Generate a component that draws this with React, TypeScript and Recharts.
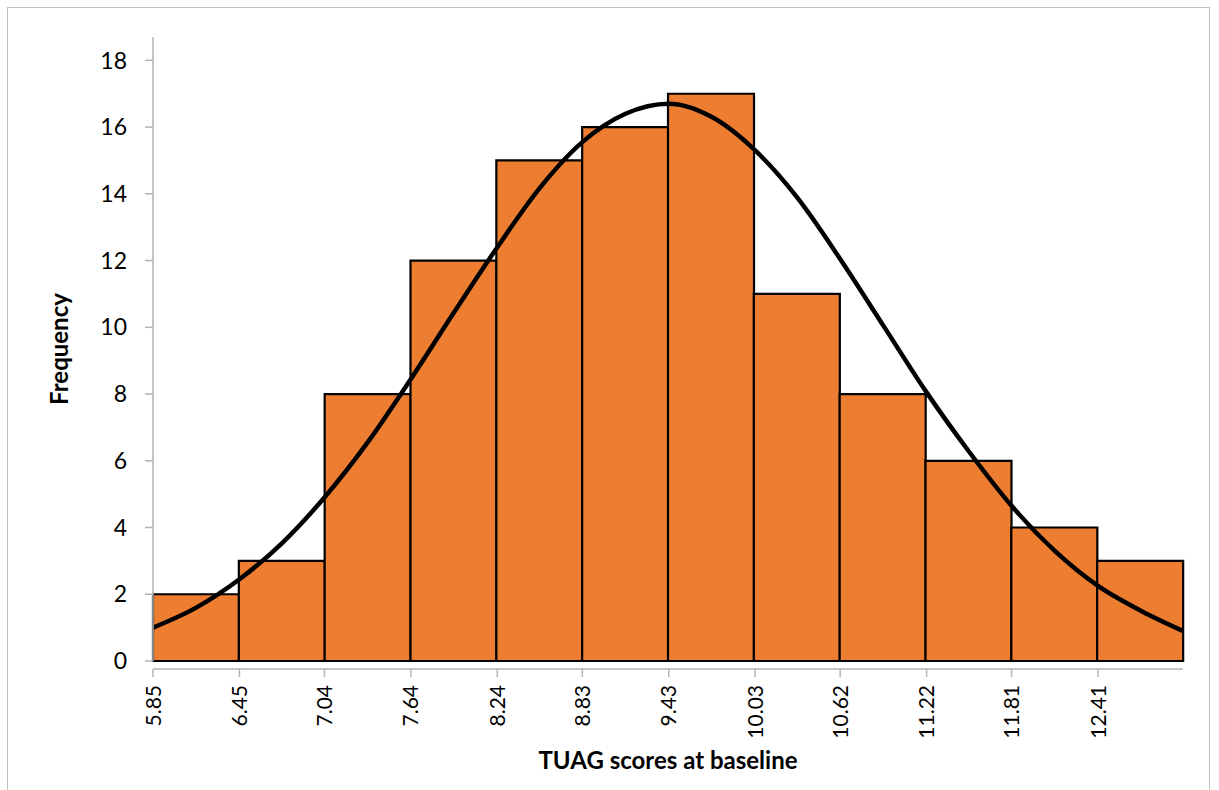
import React from 'react';
import { ComposedChart, Bar, Line, XAxis, YAxis } from 'recharts';

const binStarts = [5.85, 6.45, 7.04, 7.64, 8.24, 8.83, 9.43, 10.03, 10.62, 11.22, 11.81, 12.41];
const tickLabels = ['5.85', '6.45', '7.04', '7.64', '8.24', '8.83', '9.43', '10.03', '10.62', '11.22', '11.81', '12.41'];
const frequencies = [2, 3, 8, 12, 15, 16, 17, 11, 8, 6, 4, 3];
const yTicks = [0, 2, 4, 6, 8, 10, 12, 14, 16, 18];

// Normal curve at bin edges and bin centres
const curveX = [5.85, 6.15, 6.45, 6.75, 7.04, 7.34, 7.64, 7.94, 8.24, 8.53, 8.83, 9.13, 9.43, 9.73, 10.03, 10.32, 10.62, 10.92, 11.22, 11.51, 11.81, 12.11, 12.41, 12.71, 13.0];
const curveY = [1.0, 1.6, 2.45, 3.55, 4.9, 6.55, 8.45, 10.45, 12.4, 14.15, 15.55, 16.4, 16.7, 16.3, 15.3, 13.9, 12.05, 10.05, 8.05, 6.3, 4.65, 3.3, 2.25, 1.5, 0.9];

const barData = tickLabels.map((label, i) => ({ bin: label, freq: frequencies[i] }));
const curveData = curveX.map((x, i) => ({ x, y: curveY[i] }));

const FONT = 'Lato, "Liberation Sans", sans-serif';

const XTick = (props: any) => {
  const { x, y, payload } = props;
  const idx = binStarts.indexOf(payload.value);
  const label = idx >= 0 ? tickLabels[idx] : String(payload.value);
  return (
    <text
      x={0}
      y={0}
      dy="0.36em"
      textAnchor="end"
      fontSize={21}
      fontFamily={FONT}
      fill="#000"
      transform={`translate(${x},${y + 6}) rotate(-90)`}
    >
      {label}
    </text>
  );
};

export default function App() {
  return (
    <div style={{ position: 'absolute', left: 0, top: 0, width: 1219, height: 790, background: '#fff', fontFamily: FONT }}>
      <div style={{ position: 'absolute', left: 7, top: 7, width: 1203, height: 800, border: '1px solid #bfbfbf', boxSizing: 'border-box' }} />
      <div style={{ position: 'absolute', left: 0, top: 0 }}>
        <ComposedChart
          width={1219}
          height={790}
          data={barData}
          margin={{ top: 37, right: 36, left: 0, bottom: 0 }}
          barCategoryGap={0}
          barGap={0}
        >
          <XAxis
            xAxisId="cat"
            dataKey="bin"
            type="category"
            height={8}
            tick={false}
            axisLine={false}
            tickLine={false}
          />
          <XAxis
            xAxisId="num"
            dataKey="x"
            type="number"
            domain={[5.85, 13.0]}
            allowDataOverflow
            ticks={binStarts}
            interval={0}
            height={121}
            axisLine={{ stroke: '#b3b3b3', strokeWidth: 1.5 }}
            tickLine={{ stroke: '#b3b3b3', strokeWidth: 1.5 }}
            tickSize={8}
            tick={<XTick />}
            label={{
              value: 'TUAG scores at baseline',
              position: 'insideBottom',
              offset: 21,
              fontSize: 24,
              fontWeight: 'bold',
              fontFamily: FONT,
              fill: '#000',
            }}
          />
          <YAxis
            type="number"
            domain={[0, 18.7]}
            ticks={yTicks}
            interval={0}
            width={153}
            axisLine={{ stroke: '#b3b3b3', strokeWidth: 1.5 }}
            tickLine={{ stroke: '#b3b3b3', strokeWidth: 1.5 }}
            tickSize={8}
            tickMargin={18}
            tick={{ fontSize: 23, fontFamily: FONT, fill: '#000' }}
            label={{
              value: 'Frequency',
              angle: -90,
              position: 'center',
              dx: -17,
              fontSize: 24,
              fontWeight: 'bold',
              fontFamily: FONT,
              fill: '#000',
            }}
          />
          <Bar
            xAxisId="cat"
            dataKey="freq"
            fill="#ED7D31"
            stroke="#000"
            strokeWidth={2.2}
            isAnimationActive={false}
          />
          <Line
            xAxisId="num"
            data={curveData}
            dataKey="y"
            type="monotone"
            stroke="#000"
            strokeWidth={4.5}
            dot={false}
            activeDot={false}
            isAnimationActive={false}
          />
        </ComposedChart>
      </div>
    </div>
  );
}
